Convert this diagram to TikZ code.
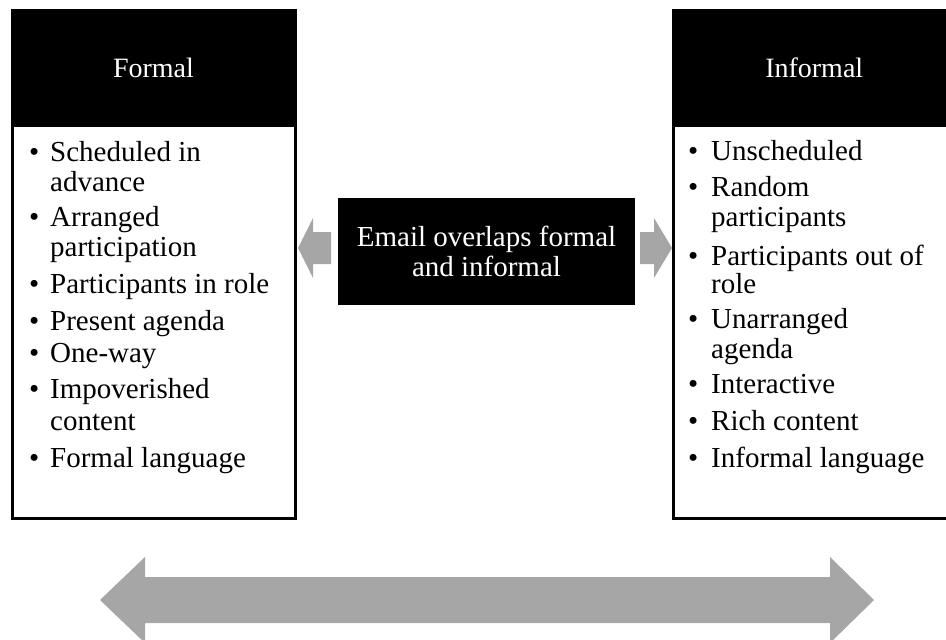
\documentclass[tikz,border=0pt]{standalone}
\usepackage{fontspec}
\setmainfont{Liberation Serif}
\definecolor{arrowgray}{RGB}{166,166,166}
\begin{document}
\begin{tikzpicture}[x=1pt,y=-1pt,
  headbox/.style={fill=black, draw=black, line width=3pt, text=white, inner sep=0pt,
    font=\fontsize{28}{30}\selectfont},
  bodybox/.style={fill=white, draw=black, line width=3pt, inner sep=0pt},
  midbox/.style={fill=black, text=white, align=center, inner sep=0pt,
    font=\fontsize{29}{30}\selectfont},
  item/.style={anchor=base west, inner sep=0pt, font=\fontsize{29}{30}\selectfont},
  blockarrow/.style={fill=arrowgray}]
\useasboundingbox (0,0) rectangle (946,640);

% left box
\node[bodybox, minimum width=283pt, minimum height=393pt] (lbody) at (153.5,321.5) {};
\node[headbox, minimum width=283pt, minimum height=115pt] (lhead) at (153.5,67.5) {Formal};

% right box
\node[bodybox, minimum width=281.5pt, minimum height=393pt] (rbody) at (814.25,321.5) {};
\node[headbox, minimum width=281.5pt, minimum height=115pt] (rhead) at (814.25,67.5) {Informal};

% middle box
\node[midbox, minimum width=297pt, minimum height=107pt] (mid) at (486.5,251.5)
  {Email overlaps formal\\and informal};

% small arrows
\fill[blockarrow] (298,248) -- (313,218) -- (313,232) -- (331,232) -- (331,264)
  -- (313,264) -- (313,278) -- cycle;
\fill[blockarrow] (640,232) -- (654,232) -- (654,218) -- (672,248) -- (654,278)
  -- (654,264) -- (640,264) -- cycle;

% big double arrow
\fill[blockarrow] (100,600) -- (145,557) -- (145,577) -- (830,577) -- (830,557)
  -- (874,600) -- (830,643) -- (830,623) -- (145,623) -- (145,643) -- cycle;

% left list
\foreach \yy/\bb/\txt [count=\i] in {
  161.7/1/Scheduled in, 191.7/0/advance, 226.7/1/Arranged, 256.7/0/participation,
  293/1/Participants in role, 330/1/Present agenda, 362/1/One-way,
  398/1/Impoverished, 430/0/content, 467/1/Formal language}{
  \node[item] (L\i) at (50,\yy) {\txt};
  \ifnum\bb=1 \node[item] (LB\i) at (29,\yy) {•};\fi
}

% right list
\foreach \yy/\bb/\txt [count=\i] in {
  160/1/Unscheduled, 196.7/1/Random, 226.7/0/participants,
  265/1/Participants out of, 293/0/role, 328/1/Unarranged, 358/0/agenda,
  393/1/Interactive, 430/1/Rich content, 467/1/Informal language}{
  \node[item] (R\i) at (711,\yy) {\txt};
  \ifnum\bb=1 \node[item] (RB\i) at (688,\yy) {•};\fi
}
\end{tikzpicture}
\end{document}
